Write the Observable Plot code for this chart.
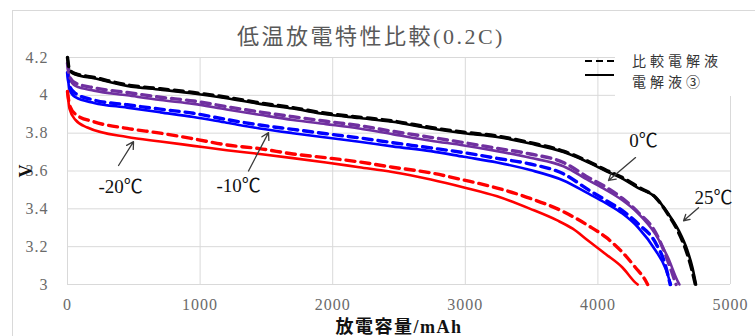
<!DOCTYPE html>
<html><head><meta charset="utf-8">
<script src="https://cdn.jsdelivr.net/npm/d3@7"></script>
<script src="https://cdn.jsdelivr.net/npm/@observablehq/plot@0.6"></script>
<style>
body{margin:0;background:#fff;overflow:hidden}
#wrap{position:relative;width:755px;height:336px;overflow:hidden;font-family:"Liberation Serif","Noto Sans CJK JP",serif}
#chart{position:absolute;left:0;top:0}
#frame{position:absolute;left:12px;top:10px;width:800px;height:400px;border:1px solid #d9d9d9;pointer-events:none}
#legbox{position:absolute;left:615px;top:44px;width:140px;height:52px;background:#fff}
#legkeys{position:absolute;left:583px;top:48px}
.lt{position:absolute;left:632px;font-size:14px;line-height:20px;letter-spacing:4px;color:#333;font-family:"Noto Sans CJK JP",sans-serif;white-space:nowrap}
</style></head>
<body><div id="wrap"><div id="chart"></div><div id="frame"></div>
<div id="legbox"></div>
<svg id="legkeys" width="34" height="34"></svg>
<div class="lt" id="lt1" style="top:50px"></div>
<div class="lt" id="lt2" style="top:71px"></div>
</div>
<script>
const title = "低温放電特性比較(0.2C)";
const xLabel = "放電容量/mAh";
const yLabel = "V";
const legendLabels = ["比較電解液", "電解液③"];
const temps = ["25℃", "0℃", "-10℃", "-20℃"];
const tempColors = ["#000000", "#7030a0", "#0000ff", "#ff0000"];
const xTicks = [0, 1000, 2000, 3000, 4000, 5000];
const yTicks = [3, 3.2, 3.4, 3.6, 3.8, 4, 4.2];

// 25℃
const cap25S = [0, 15, 60, 200, 450, 700, 950, 1200, 1450, 1700, 1950, 2200, 2450, 2740, 2990, 3240, 3490, 3740, 3930, 4060, 4185, 4305, 4435, 4530, 4610, 4675, 4713, 4740];
const v25S   = [4.2, 4.13, 4.11, 4.09, 4.05, 4.03, 4.01, 3.985, 3.955, 3.93, 3.90, 3.88, 3.86, 3.825, 3.80, 3.78, 3.745, 3.70, 3.645, 3.60, 3.56, 3.51, 3.46, 3.375, 3.285, 3.18, 3.09, 3.0];
const cap25D = [0, 15, 60, 200, 450, 700, 950, 1200, 1450, 1700, 1950, 2200, 2450, 2740, 2990, 3240, 3490, 3740, 3930, 4060, 4185, 4305, 4435, 4530, 4605, 4670, 4708, 4735];
const v25D   = [4.2, 4.135, 4.115, 4.095, 4.055, 4.035, 4.015, 3.99, 3.96, 3.935, 3.905, 3.885, 3.865, 3.83, 3.805, 3.785, 3.75, 3.705, 3.65, 3.605, 3.565, 3.515, 3.46, 3.37, 3.28, 3.17, 3.08, 3.0];
// 0℃
const cap0S = [0, 15, 60, 200, 450, 700, 950, 1200, 1450, 1700, 1950, 2200, 2450, 2740, 2990, 3240, 3490, 3740, 3930, 4060, 4185, 4305, 4435, 4530, 4600, 4615];
const v0S   = [4.17, 4.09, 4.05, 4.025, 4.0, 3.975, 3.955, 3.925, 3.897, 3.87, 3.848, 3.825, 3.795, 3.76, 3.735, 3.705, 3.67, 3.625, 3.55, 3.50, 3.445, 3.375, 3.265, 3.14, 3.02, 3.0];
const cap0D = [0, 15, 60, 200, 450, 700, 950, 1200, 1450, 1700, 1950, 2200, 2450, 2740, 2990, 3240, 3490, 3740, 3930, 4060, 4185, 4305, 4435, 4530, 4570, 4590];
const v0D   = [4.17, 4.10, 4.065, 4.04, 4.015, 3.99, 3.97, 3.94, 3.912, 3.887, 3.863, 3.84, 3.81, 3.778, 3.75, 3.72, 3.69, 3.645, 3.565, 3.515, 3.455, 3.38, 3.275, 3.12, 3.04, 3.0];
// -10℃
const capM10S = [0, 15, 60, 200, 450, 700, 950, 1200, 1450, 1700, 1950, 2200, 2450, 2740, 2990, 3240, 3490, 3740, 3930, 4060, 4185, 4305, 4435, 4510, 4550];
const vM10S   = [4.12, 4.03, 3.99, 3.96, 3.935, 3.91, 3.885, 3.855, 3.825, 3.80, 3.777, 3.755, 3.73, 3.705, 3.675, 3.645, 3.605, 3.55, 3.48, 3.43, 3.375, 3.30, 3.18, 3.085, 3.0];
const capM10D = [0, 15, 60, 200, 450, 700, 950, 1200, 1450, 1700, 1950, 2200, 2450, 2740, 2990, 3240, 3490, 3740, 3930, 4060, 4185, 4305, 4435, 4510, 4545];
const vM10D   = [4.12, 4.05, 4.01, 3.975, 3.95, 3.927, 3.905, 3.872, 3.843, 3.82, 3.797, 3.775, 3.75, 3.722, 3.697, 3.667, 3.637, 3.585, 3.50, 3.445, 3.39, 3.32, 3.22, 3.10, 3.0];
// -20℃
const capM20S = [0, 15, 60, 150, 450, 700, 950, 1200, 1450, 1700, 1950, 2200, 2450, 2740, 2990, 3240, 3490, 3690, 3810, 3930, 4060, 4185, 4283, 4300];
const vM20S   = [4.02, 3.93, 3.87, 3.83, 3.78, 3.756, 3.733, 3.71, 3.69, 3.668, 3.645, 3.62, 3.595, 3.555, 3.513, 3.466, 3.40, 3.34, 3.295, 3.23, 3.16, 3.09, 3.01, 3.0];
const capM20D = [0, 15, 60, 200, 450, 700, 950, 1200, 1450, 1700, 1950, 2200, 2450, 2740, 2990, 3240, 3490, 3740, 3930, 4060, 4185, 4283, 4360, 4375];
const vM20D   = [4.02, 3.95, 3.90, 3.86, 3.825, 3.80, 3.77, 3.738, 3.718, 3.69, 3.67, 3.648, 3.62, 3.59, 3.552, 3.51, 3.455, 3.385, 3.31, 3.25, 3.17, 3.09, 3.02, 3.0];

// annotations (data coordinates)
const annTexts = ["-20℃", "-10℃", "0℃", "25℃"];
const annX = [400, 1290, 4344, 4872];
const annY = [3.517, 3.523, 3.76, 3.46];
const arrX1 = [385, 1365, 4284, 4759];
const arrY1 = [3.629, 3.60, 3.671, 3.406];
const arrX2 = [498, 1516, 4080, 4646];
const arrY2 = [3.755, 3.803, 3.55, 3.337];

function rows(temp, type, caps, volts) {
  return caps.map((c, i) => ({temp, type, cap: c, v: volts[i]}));
}
const solid = [
  ...rows("-20℃", "s", capM20S, vM20S),
  ...rows("-10℃", "s", capM10S, vM10S),
  ...rows("0℃", "s", cap0S, v0S),
  ...rows("25℃", "s", cap25S, v25S)
];
const dashed = [
  ...rows("-20℃", "d", capM20D, vM20D),
  ...rows("-10℃", "d", capM10D, vM10D),
  ...rows("0℃", "d", cap0D, v0D),
  ...rows("25℃", "d", cap25D, v25D)
];
const anns = annTexts.map((t, i) => ({t, x: annX[i], y: annY[i], x1: arrX1[i], y1: arrY1[i], x2: arrX2[i], y2: arrY2[i]}));

const chart = Plot.plot({
  width: 755, height: 336,
  marginTop: 57, marginLeft: 67, marginRight: 25, marginBottom: 52,
  style: {background: "transparent", fontFamily: "'Liberation Serif','Noto Sans CJK JP',serif", fontSize: "16px", color: "#6a6a6a"},
  x: {domain: [0, 5000], ticks: xTicks, tickSize: 0, tickPadding: 14, tickFormat: d => String(d), label: xLabel, labelAnchor: "center", labelOffset: 48, labelArrow: "none"},
  y: {domain: [3, 4.2], ticks: yTicks, tickSize: 0, tickPadding: 19, label: yLabel, labelAnchor: "center", labelOffset: 48, labelArrow: "none", tickFormat: d => String(+d.toFixed(1))},
  color: {domain: temps, range: tempColors},
  marks: [
    Plot.gridX(xTicks, {stroke: "#d9d9d9", strokeOpacity: 1, strokeWidth: 1}),
    Plot.gridY(yTicks, {stroke: "#d9d9d9", strokeOpacity: 1, strokeWidth: 1}),
    Plot.line(solid, {x: "cap", y: "v", z: "temp", stroke: "temp", strokeWidth: 2.6, curve: "monotone-x"}),
    Plot.line(dashed, {x: "cap", y: "v", z: "temp", stroke: "temp", strokeWidth: 3.4, strokeDasharray: "9,6", curve: "monotone-x"}),
    Plot.arrow(anns, {x1: "x1", y1: "y1", x2: "x2", y2: "y2", stroke: "#3a3a3a", strokeWidth: 1.3, headLength: 9, bend: 0}),
    Plot.text(anns, {x: "x", y: "y", text: "t", fill: "#111", fontSize: 19}),
    Plot.text([title], {frameAnchor: "top", lineAnchor: "middle", dy: -21, dx: -28, fontSize: 22, fill: "#595959"})
  ]
});
// style axis labels and tick labels
chart.querySelectorAll("[aria-label='x-axis label'] text, [aria-label='y-axis label'] text").forEach(t => {
  t.setAttribute("font-weight", "bold"); t.setAttribute("fill", "#111"); t.setAttribute("font-size", "18");
});
chart.querySelectorAll("[aria-label='x-axis label'] text").forEach(t => t.setAttribute("letter-spacing", "1.5"));
chart.querySelectorAll("[aria-label='x-axis tick label'] text, [aria-label='y-axis tick label'] text").forEach(t => t.setAttribute("letter-spacing", "1"));
chart.querySelectorAll("[aria-label='text'] text").forEach(t => { if (t.textContent === title) t.setAttribute("letter-spacing", "2.5"); });
document.getElementById("chart").appendChild(chart);

// legend
const lk = d3.select("#legkeys");
lk.append("line").attr("x1", 2).attr("x2", 31).attr("y1", 13).attr("y2", 13).attr("stroke", "#000").attr("stroke-width", 2.2).attr("stroke-dasharray", "7,4");
lk.append("line").attr("x1", 2).attr("x2", 31).attr("y1", 27).attr("y2", 27).attr("stroke", "#000").attr("stroke-width", 2);
document.getElementById("lt1").textContent = legendLabels[0];
document.getElementById("lt2").textContent = legendLabels[1];
</script>
</body></html>
